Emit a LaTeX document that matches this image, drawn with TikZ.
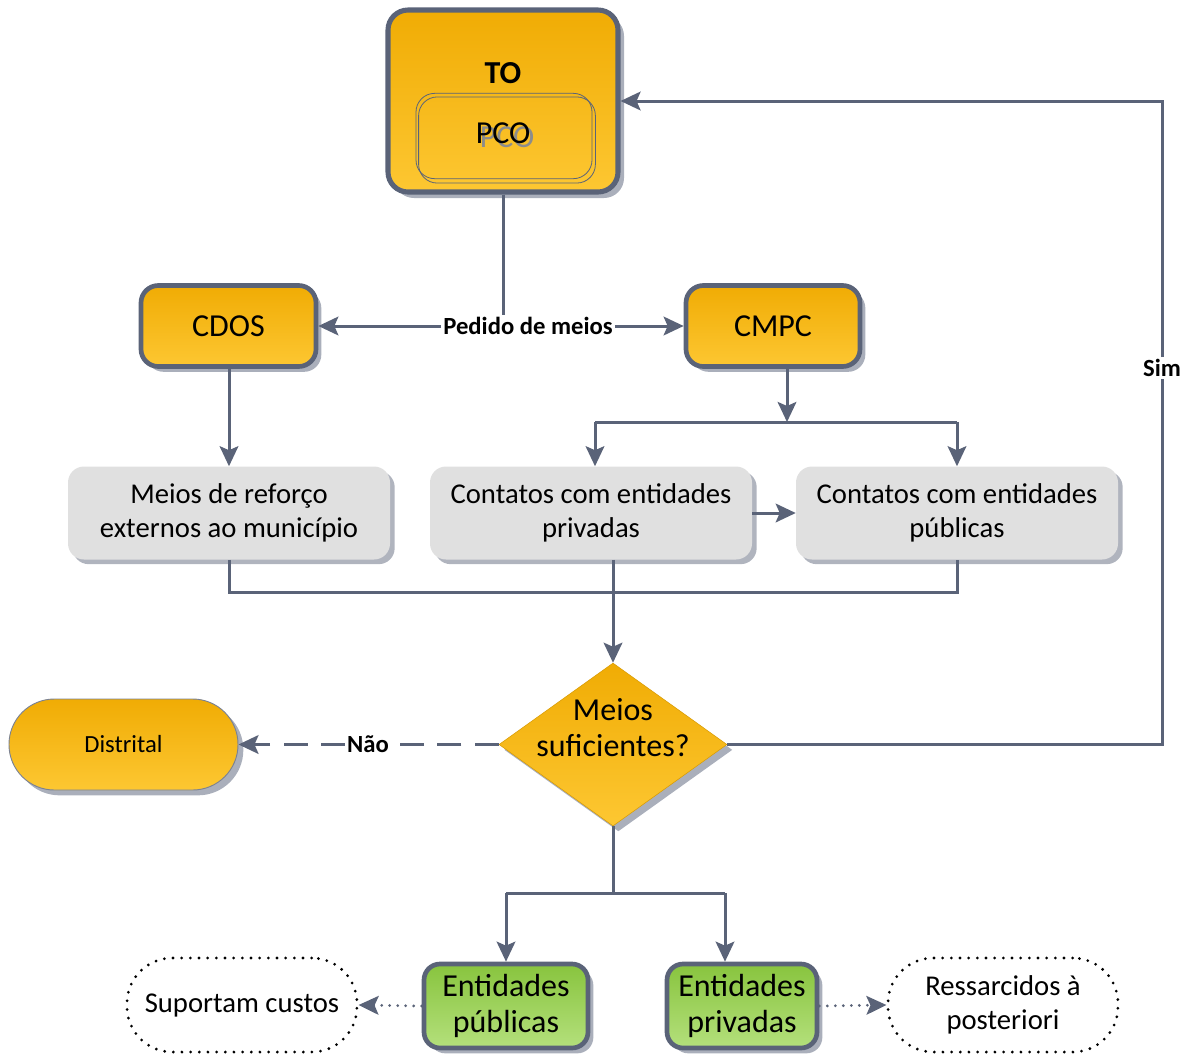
\documentclass[tikz,border=0pt]{standalone}
\usepackage{fontspec}
\setmainfont{Carlito}
\usetikzlibrary{arrows.meta,shapes.geometric,shadows,calc}
\definecolor{slate}{RGB}{90,99,120}
\definecolor{shad}{RGB}{170,175,187}
\definecolor{ortop}{RGB}{240,172,4}
\definecolor{orbot}{RGB}{253,199,50}
\definecolor{grtop}{RGB}{136,196,62}
\definecolor{grbot}{RGB}{180,224,124}
\definecolor{greyfill}{RGB}{224,224,224}
\definecolor{greyshad}{RGB}{176,180,190}
\newcommand\fsbig{\fontsize{24}{27}\selectfont}
\newcommand\fsmed{\fontsize{21.5}{26}\selectfont}
\newcommand\fssmall{\fontsize{18.5}{22}\selectfont}
\tikzset{
  shad/.style={drop shadow={shadow xshift=4pt, shadow yshift=-4pt, fill=shad, opacity=1}},
  orbox/.style={rounded corners=13pt, draw=slate, line width=3.5pt, top color=ortop, bottom color=orbot, shad, inner sep=0pt, font=\fsbig},
  grnbox/.style={rounded corners=12pt, draw=slate, line width=3.5pt, top color=grtop, bottom color=grbot, shad, inner sep=0pt, align=center, font=\fsbig},
  greybox/.style={rounded corners=12pt, fill=greyfill, drop shadow={shadow xshift=3.5pt, shadow yshift=-3.5pt, fill=greyshad, opacity=1}, minimum width=241.5pt, minimum height=69.75pt, align=center, font=\fsmed, inner sep=0pt},
  dotell/.style={rounded corners=34pt, draw=black, line width=2.3pt, dash pattern=on 0pt off 6.5pt, line cap=round, minimum width=172.5pt, minimum height=70.5pt, align=center, font=\fsmed, inner sep=0pt},
  conn/.style={draw=slate, line width=2.25pt},
  arr/.style={conn, -{Stealth[length=15pt,width=14pt,inset=3pt]}},
  dotarr/.style={draw=slate, line width=2.3pt, dash pattern=on 0pt off 6pt, line cap=round, -{Stealth[length=15pt,width=14pt,inset=3pt]}},
  lab/.style={fill=white, inner sep=1.5pt, font=\bfseries\fssmall},
}
\begin{document}
\begin{tikzpicture}[x=0.75pt,y=-0.75pt]
\path[use as bounding box] (0,0) rectangle (1192,1054);

% TO box
\node[orbox, rounded corners=15pt, line width=3.8pt, minimum width=172.5pt, minimum height=136.5pt, drop shadow={shadow xshift=4.5pt, shadow yshift=-4.5pt, fill=shad, opacity=1}] (TO) at (503,101) {};
\node[font=\bfseries\fsbig] (tolab) at (503,73) {TO};
\node[draw=slate, line width=0.6pt, rounded corners=14pt, minimum width=132pt, minimum height=64pt, inner sep=0pt] (PCO) at (504,136) {};
\draw[slate, line width=0.6pt, rounded corners=14pt] ($(PCO.north west)+(3,4)$) rectangle ($(PCO.south east)+(3,4)$);
\node[font=\fsbig] (pcolab) at (503,135) {\makebox[0pt][l]{\hspace{3pt}\raisebox{-3pt}{\color{black!45}PCO}}PCO};

% CDOS and CMPC
\node[orbox, minimum width=131.25pt, minimum height=60.75pt] (CDOS) at (228.5,326) {CDOS};
\node[orbox, minimum width=130.5pt, minimum height=60.75pt] (CMPC) at (773,326) {CMPC};

% Pedido de meios
\node[lab] (pm) at (528,326) {Pedido de meios};
\draw[conn] (TO.south) -- (TO.south |- pm.north);
\draw[arr] (pm.west) -- (CDOS.east);
\draw[arr] (pm.east) -- (CMPC.west);

% Grey boxes
\node[greybox] (g1) at (229,513) {Meios de reforço\\externos ao município};
\node[greybox] (g2) at (591,513) {Contatos com entidades\\privadas};
\node[greybox] (g3) at (957,513) {Contatos com entidades\\públicas};

\draw[arr] (CDOS.south -| g1.north) -- (g1.north);
\coordinate (j1) at (787,422);
\coordinate (j1l) at (595,422);
\coordinate (j1r) at (957,422);
\draw[arr] (j1 |- CMPC.south) -- (j1);
\draw[conn] (j1l) -- (j1r);
\draw[arr] (j1l) -- (j1l |- g2.north);
\draw[arr] (j1r) -- (g3.north);
\draw[arr] (g2.east) -- (g3.west);

% Diamond
\node[diamond, minimum width=171pt, minimum height=122.25pt, inner sep=0pt, top color=ortop, bottom color=orbot, draw=ortop!90!black, line width=0.4pt, drop shadow={shadow xshift=4pt, shadow yshift=-4pt, fill=shad, opacity=1}] (dm) at (613,744.5) {};
\node[font=\fsbig, align=center] (dmlab) at (613,728) {Meios\\suficientes?};

\coordinate (j2) at (613,592);
\draw[conn] (g1.south) -- (g1.south |- j2) -- (g3.south |- j2) -- (g3.south);
\draw[arr] (dm.north |- g2.south) -- (dm.north);

% Distrital
\node[rounded corners=34pt, draw=slate!80, line width=0.7pt, top color=ortop, bottom color=orbot, minimum width=171.75pt, minimum height=68.25pt, inner sep=0pt, font=\fssmall, drop shadow={shadow xshift=4pt, shadow yshift=-4pt, fill=shad, opacity=1}] (dist) at (123.5,744.5) {Distrital};
\node[lab] (nao) at (368,744.5) {Não};
\draw[conn, dash pattern=on 18pt off 10pt] (dm.west) -- (nao.east);
\draw[arr, dash pattern=on 18pt off 10pt] (nao.west) -- (dist.east);

% Sim
\coordinate (s1) at (1162,744.5);
\coordinate (s2) at (1162,101);
\node[lab] (sim) at (1162,368) {Sim};
\draw[conn] (dm.east) -- (s1) -- (sim.south);
\draw[arr] (sim.north) -- (s2) -- (TO.east);

% Bottom
\node[grnbox, minimum width=123pt, minimum height=63pt] (gr1) at (506,1006) {Entidades\\públicas};
\node[grnbox, minimum width=112.5pt, minimum height=63pt] (gr2) at (742,1006) {Entidades\\privadas};
\coordinate (j3) at (613,893);
\coordinate (j4) at (725,893);
\draw[conn] (dm.south) -- (j3);
\draw[conn] (gr1.north |- j3) -- (j4);
\draw[arr] (j3 -| gr1.north) -- (gr1.north);
\draw[arr] (j4) -- (j4 |- gr2.north);

\node[dotell] (su) at (242,1005) {Suportam custos};
\node[dotell] (re) at (1003,1005) {Ressarcidos à\\posteriori};
\draw[dotarr] (gr1.west) -- (su.east);
\draw[dotarr] (gr2.east) -- (re.west);
\end{tikzpicture}
\end{document}
